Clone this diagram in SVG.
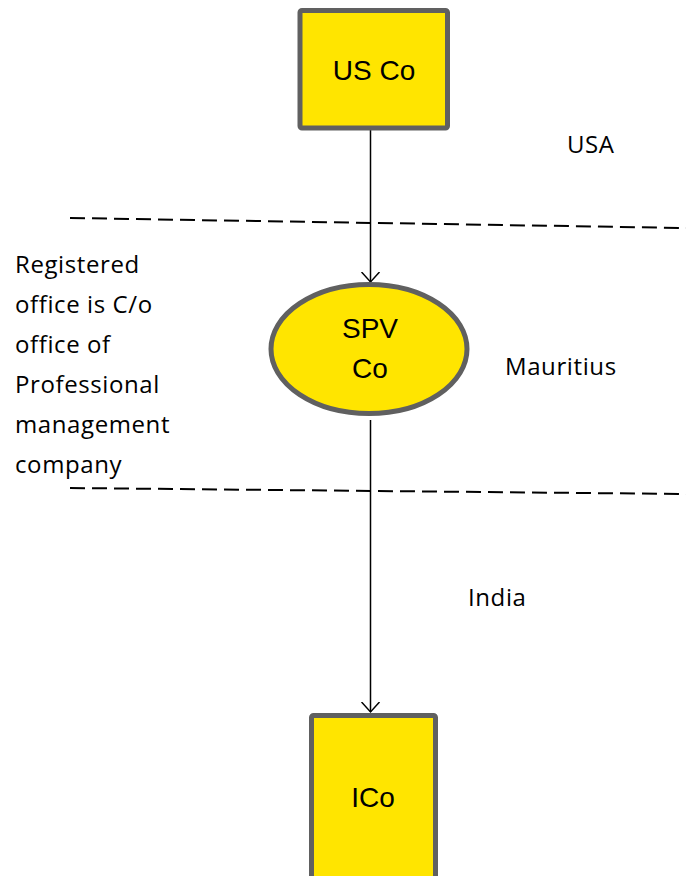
<svg xmlns="http://www.w3.org/2000/svg" width="686" height="876" viewBox="0 0 686 876">
<defs>
<style>
.node{fill:#FFE500;stroke:#606060;stroke-width:5}
.nl{font-family:"Liberation Sans",Arial,sans-serif;font-size:28px;fill:#000;text-anchor:middle}
.lb{font-family:"Open Sans",Lato,sans-serif;font-size:24px;letter-spacing:0.6px;fill:#000}
.dash{stroke:#000;stroke-width:2;stroke-dasharray:15,7;fill:none}
.conn{stroke:#000;stroke-width:1.5;fill:none}
</style>
<marker id="arr" markerWidth="20" markerHeight="20" refX="10" refY="10" orient="auto" markerUnits="userSpaceOnUse" viewBox="0 0 20 20">
<path d="M0,1 L10,10 L0,19" fill="none" stroke="#000" stroke-width="1.5"/>
</marker>
</defs>
<rect width="686" height="876" fill="#fff"/>
<g id="dividers">
<line class="dash" x1="70" y1="218" x2="686" y2="228"/>
<line class="dash" x1="70" y1="488" x2="686" y2="494"/>
</g>
<g id="connectors">
<line class="conn" x1="370.5" y1="130" x2="370.5" y2="282" marker-end="url(#arr)"/>
<line class="conn" x1="370.5" y1="420" x2="370.5" y2="712" marker-end="url(#arr)"/>
</g>
<g id="usco">
<rect class="node" x="300" y="10.5" width="147.5" height="117.5" rx="2"/>
<text class="nl" x="374" y="80">US Co</text>
</g>
<g id="spvco">
<ellipse class="node" cx="369" cy="349" rx="98" ry="64.5"/>
<text class="nl" x="370" y="338">SPV</text>
<text class="nl" x="370" y="378">Co</text>
</g>
<g id="ico">
<rect class="node" x="311.5" y="715.5" width="124" height="170" rx="2"/>
<text class="nl" x="373" y="807">ICo</text>
</g>
<g id="labels">
<text class="lb" x="567" y="153">USA</text>
<text class="lb" x="505" y="375">Mauritius</text>
<text class="lb" x="468" y="606">India</text>
<text class="lb" x="15" y="273">Registered</text>
<text class="lb" x="15" y="313">office is C/o</text>
<text class="lb" x="15" y="353">office of</text>
<text class="lb" x="15" y="393">Professional</text>
<text class="lb" x="15" y="433">management</text>
<text class="lb" x="15" y="473">company</text>
</g>
</svg>
